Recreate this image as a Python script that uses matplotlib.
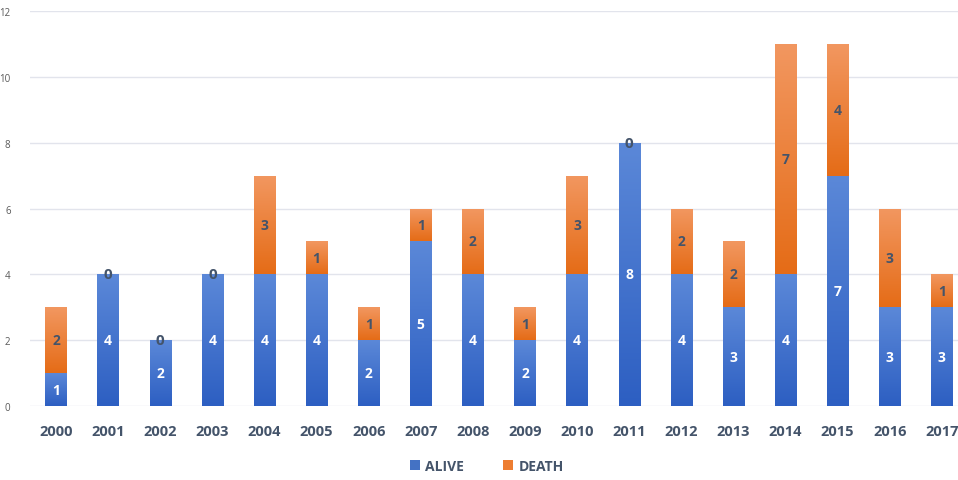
import numpy as np
import matplotlib.pyplot as plt
from matplotlib.colors import LinearSegmentedColormap

years = ['2000', '2001', '2002', '2003', '2004', '2005', '2006', '2007', '2008',
         '2009', '2010', '2011', '2012', '2013', '2014', '2015', '2016', '2017']
alive = [1, 4, 2, 4, 4, 4, 2, 5, 4, 2, 4, 8, 4, 3, 4, 7, 3, 3]
death = [2, 0, 0, 0, 3, 1, 1, 1, 2, 1, 3, 0, 2, 2, 7, 4, 3, 1]

plt.rcParams['font.family'] = ['Open Sans', 'DejaVu Sans']

fig = plt.figure(figsize=(9.58, 4.81), dpi=100)
ax = fig.add_axes([30 / 958, 74 / 481, 928 / 958, 395 / 481])

x = np.arange(len(years))
w = 0.41

blue_cm = LinearSegmentedColormap.from_list('b', ['#2d5fc2', '#5b88d8'])
orange_cm = LinearSegmentedColormap.from_list('o', ['#e56c17', '#f29760'])
grad = np.linspace(0, 1, 100).reshape(-1, 1)

bars_a = ax.bar(x, alive, w, color='#4472c4', label='ALIVE', zorder=2)
bars_d = ax.bar(x, death, w, bottom=alive, color='#ed7d31', label='DEATH', zorder=2)

# gradient fill inside each bar segment
for bars, cm in ((bars_a, blue_cm), (bars_d, orange_cm)):
    for b in bars:
        if b.get_height() == 0:
            continue
        x0, y0 = b.get_x(), b.get_y()
        im = ax.imshow(grad, cmap=cm, origin='lower', aspect='auto',
                       extent=(x0, x0 + b.get_width(), y0, y0 + b.get_height()),
                       zorder=3)
        im.set_clip_path(b)

for i in range(len(years)):
    a, d = alive[i], death[i]
    ax.text(x[i], a / 2, str(a), ha='center', va='center', color='white',
            fontsize=10, fontweight='bold', zorder=4)
    if d > 0:
        ax.text(x[i], a + d / 2, str(d), ha='center', va='center', color='#44546a',
                fontsize=10, fontweight='bold', zorder=4)
    else:
        ax.text(x[i], a, '0', ha='center', va='center', color='#44546a',
                fontsize=11, fontweight='bold', zorder=4)

ax.set_xlim(-0.5, 17.31)
ax.set_ylim(0, 12)
ax.set_yticks(range(0, 13, 2))
ax.set_xticks(x)
ax.set_xticklabels(years, fontsize=10.5, fontweight='bold', color='#44546a')
ax.tick_params(axis='y', labelsize=7, colors='#595959', length=0, pad=14)
ax.tick_params(axis='x', length=0, pad=13)
ax.grid(axis='y', color='#e2e4ec', linewidth=1, zorder=0)
ax.set_axisbelow(True)
for s in ax.spines.values():
    s.set_visible(False)

leg = fig.legend(handles=[bars_a, bars_d], labels=['ALIVE', 'DEATH'], loc='center',
                 bbox_to_anchor=(487 / 958, 1 - 467 / 481), ncol=2, frameon=False,
                 handlelength=0.7, handleheight=0.7, columnspacing=2.8, handletextpad=0.4,
                 prop={'size': 10, 'weight': 'bold'})
for t in leg.get_texts():
    t.set_color('#44546a')

fig.savefig('out.png', dpi=100)
